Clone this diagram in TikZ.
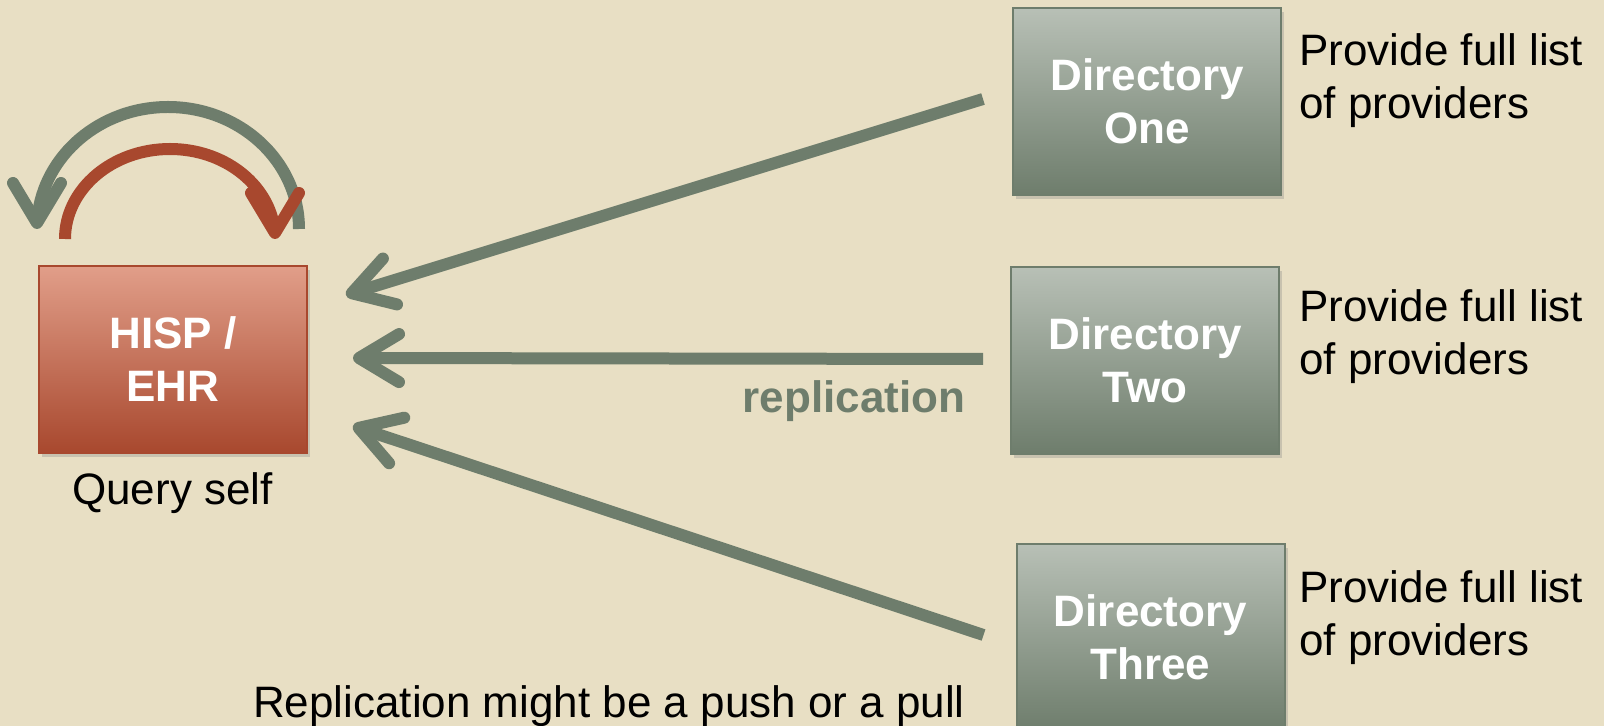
\documentclass[tikz,border=0pt]{standalone}
\usepackage{fontspec}
\setmainfont{Liberation Sans}
\usetikzlibrary{arrows.meta,bending,calc,shadows}
\definecolor{bgbeige}{HTML}{E8DFC4}
\definecolor{sage}{HTML}{6E7D6C}
\definecolor{sagelight}{HTML}{B8C0B6}
\definecolor{rust}{HTML}{A8482E}
\definecolor{rustlight}{HTML}{E19E89}
\newcommand{\slidefont}{\fontsize{22pt}{26.5pt}\selectfont}
\tikzset{
  dirbox/.style={draw=sage, line width=1pt, top color=sagelight, bottom color=sage,
    minimum width=134pt, minimum height=93.5pt, text=white, align=center,
    font=\slidefont\bfseries,
    drop shadow={shadow xshift=1.5pt, shadow yshift=-2pt, opacity=0.3}},
  ehrbox/.style={dirbox, draw=rust, top color=rustlight, bottom color=rust},
  notetext/.style={anchor=west, align=left, inner sep=0pt, font=\slidefont},
  replarrow/.style={draw=sage, line width=6pt, -{Straight Barb[length=20pt,width=24pt,round]}},
  selfarrow/.style={line width=6pt, -{Straight Barb[length=20pt,width=24pt,round]}}
}
\begin{document}
\begin{tikzpicture}[x=0.5pt, y=-0.5pt, font=\slidefont]
            \fill[bgbeige] (0,0) rectangle (1604,726);
            \useasboundingbox (0,0) rectangle (1604,726);
            \node[ehrbox] (hisp) at (173,359.5) {HISP /\\EHR};
            \node[dirbox] (dirone) at (1147,101.5) {Directory\\One};
            \node[dirbox] (dirtwo) at (1145,360.5) {Directory\\Two};
            \node[dirbox] (dirthree) at (1150.5,637.5) {Directory\\Three};
            \node[notetext] (noteone) at (1299,81) {Provide full list\\of providers};
            \node[notetext] (notetwo) at (1299,337) {Provide full list\\of providers};
            \node[notetext] (notethree) at (1299,618) {Provide full list\\of providers};
            \node (query) at (172.5,493) {Query self};
            \node[font=\slidefont\bfseries, text=sage] (repl) at (854,401) {replication};
            \node (pushpull) at (609,706) {Replication might be a push or a pull};
            \draw[replarrow] ($(dirone.west)+(-29,-2.5)$) -- ($(hisp.east)+(38,-64.5)$);
            \draw[replarrow] ($(dirtwo.west)+(-27,-1.5)$) -- ($(hisp.east)+(45,-1.5)$);
            \draw[replarrow] ($(dirthree.west)+(-32,-2.5)$) -- ($(hisp.east)+(45,66.5)$);
            \draw[selfarrow, draw=sage] ($(hisp.north)+(126,-36)$) arc[start angle=0, end angle=-180, x radius=131, y radius=122];
            \draw[selfarrow, draw=rust] ($(hisp.north)+(-108,-26)$) arc[start angle=180, end angle=360, x radius=105, y radius=90];
        \end{tikzpicture}
\end{document}
